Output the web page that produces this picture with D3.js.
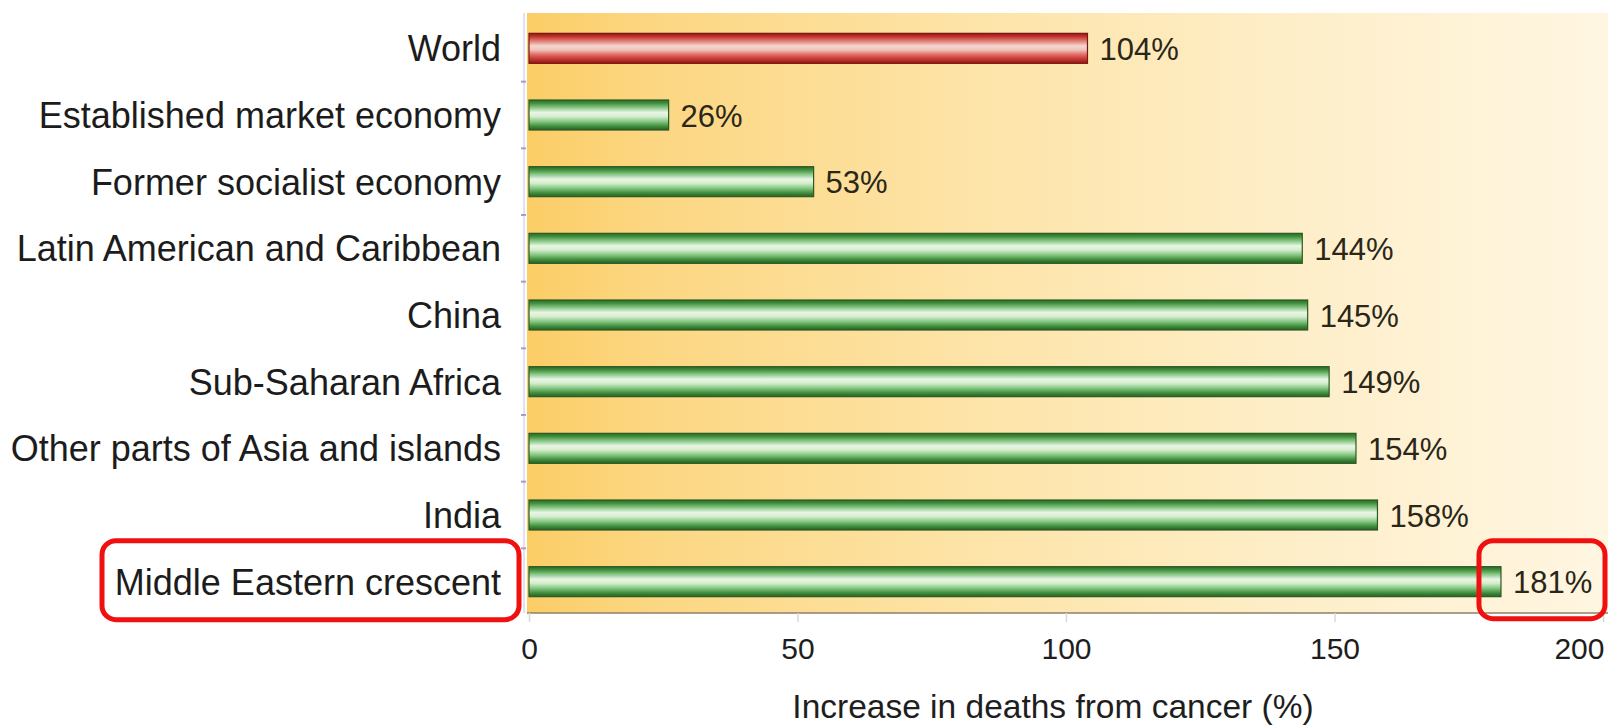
<!DOCTYPE html>
<html>
<head>
<meta charset="utf-8">
<script src="https://cdn.jsdelivr.net/npm/d3@7"></script>
<style>
  body { margin: 0; background: #fff; }
  svg { display: block; }
  text { font-family: "Liberation Sans", Arial, Helvetica, sans-serif; }
</style>
</head>
<body>
<svg id="chart" width="1608" height="727"></svg>
<script>
// Regions and the projected increase in cancer deaths (%)
const regions = [
  "World",
  "Established market economy",
  "Former socialist economy",
  "Latin American and Caribbean",
  "China",
  "Sub-Saharan Africa",
  "Other parts of Asia and islands",
  "India",
  "Middle Eastern crescent"
];
const increases = [104, 26, 53, 144, 145, 149, 154, 158, 181];
const highlighted = ["Middle Eastern crescent"];
const xTicks = [0, 50, 100, 150, 200];
const xTitle = "Increase in deaths from cancer (%)";

const W = 1608, H = 727;
const plot = { left: 527, right: 1608, top: 13, bottom: 613 };

const svg = d3.select("#chart");
const defs = svg.append("defs");

const x = d3.scaleLinear().domain([0, 200]).range([529, 1603]);
const y = d3.scaleBand().domain(regions).range([15, 615])
  .paddingInner(0.55).paddingOuter(0.275);

// warm background wash, saturated on the left and fading to cream
const bg = defs.append("linearGradient").attr("id", "bgGrad")
  .attr("x1", 0).attr("x2", 1).attr("y1", 0).attr("y2", 0);
[[0, "#fbcd66"], [0.12, "#fcd783"], [0.4, "#fde3a6"], [0.7, "#feeec8"], [1, "#fff6e2"]]
  .forEach(([o, c]) => bg.append("stop").attr("offset", o).attr("stop-color", c));

// cylinder-like shading for the bars
function barGradient(id, stops) {
  const g = defs.append("linearGradient").attr("id", id)
    .attr("x1", 0).attr("x2", 0).attr("y1", 0).attr("y2", 1);
  stops.forEach(([o, c]) => g.append("stop").attr("offset", o).attr("stop-color", c));
}
barGradient("greenGrad", [
  [0, "#2c6a28"], [0.1, "#3f8c3b"], [0.25, "#86c684"], [0.42, "#eaf6e6"],
  [0.55, "#d6eece"], [0.72, "#84c682"], [0.88, "#3e8c3a"], [1, "#2a5f25"]
]);
barGradient("redGrad", [
  [0, "#8c1a16"], [0.1, "#c0302c"], [0.25, "#e07a72"], [0.42, "#f4d8d0"],
  [0.55, "#eec4bc"], [0.72, "#e0685f"], [0.88, "#c0302c"], [1, "#8a1b16"]
]);

// plot background
svg.append("rect")
  .attr("x", plot.left).attr("y", plot.top)
  .attr("width", plot.right - plot.left).attr("height", plot.bottom - plot.top)
  .attr("fill", "url(#bgGrad)");

// left axis line with separators between categories
svg.append("line")
  .attr("x1", 524).attr("x2", 524).attr("y1", plot.top).attr("y2", plot.bottom)
  .attr("stroke", "#dcd6ea").attr("stroke-width", 1.5);
const step = y.step();
svg.append("g").selectAll("line")
  .data(regions.slice(1))
  .join("line")
  .attr("x1", 521).attr("x2", 526)
  .attr("y1", d => y(d) - step * y.paddingInner() / 2)
  .attr("y2", d => y(d) - step * y.paddingInner() / 2)
  .attr("stroke", "#a89ccc").attr("stroke-width", 2);

// bottom axis line
svg.append("line")
  .attr("x1", plot.left).attr("x2", plot.right)
  .attr("y1", plot.bottom).attr("y2", plot.bottom)
  .attr("stroke", "#8f8068").attr("stroke-width", 1.5);

// x axis ticks and labels
const xAxis = svg.append("g").attr("transform", `translate(0,${plot.bottom})`)
  .call(d3.axisBottom(x).tickValues(xTicks).tickSize(9).tickSizeOuter(0).tickPadding(16));
xAxis.select(".domain").remove();
xAxis.selectAll(".tick line").attr("stroke", "#d8d8d8").attr("stroke-width", 1.5);
xAxis.selectAll(".tick text")
  .attr("font-size", 30).attr("fill", "#1e1e1e")
  .attr("font-family", "'Liberation Sans', Arial, sans-serif")
  .attr("text-anchor", d => d === 200 ? "end" : "middle")
  .attr("dx", d => d === 200 ? 1 : 0);

svg.append("text")
  .attr("x", 1053).attr("y", 718)
  .attr("text-anchor", "middle")
  .attr("font-size", 33.5).attr("fill", "#1e1e1e")
  .text(xTitle);

const data = regions.map((r, i) => ({ region: r, value: increases[i] }));

// bars
svg.append("g").selectAll("rect")
  .data(data)
  .join("rect")
  .attr("x", x(0))
  .attr("y", d => y(d.region))
  .attr("width", d => x(d.value) - x(0))
  .attr("height", y.bandwidth())
  .attr("fill", d => d.region === "World" ? "url(#redGrad)" : "url(#greenGrad)")
  .attr("stroke", d => d.region === "World" ? "#7a1512" : "#2a5a24")
  .attr("stroke-width", 1.2);

// value labels
svg.append("g").selectAll("text")
  .data(data)
  .join("text")
  .attr("x", d => x(d.value) + 12)
  .attr("y", d => y(d.region) + y.bandwidth() / 2)
  .attr("dy", "0.38em")
  .attr("font-size", 31).attr("fill", "#2a2618")
  .text(d => d.value + "%");

// category labels
const catLabels = svg.append("g").selectAll("text")
  .data(data)
  .join("text")
  .attr("x", 501)
  .attr("y", d => y(d.region) + y.bandwidth() / 2)
  .attr("dy", "0.36em")
  .attr("text-anchor", "end")
  .attr("font-size", 36).attr("fill", "#1c1c1c")
  .text(d => d.region);

// red call-out boxes around the highlighted region and its value
const boxStroke = "#f01010";
catLabels.filter(d => highlighted.includes(d.region)).each(function (d) {
  const cy = y(d.region) + y.bandwidth() / 2;
  svg.append("rect")
    .attr("x", 102).attr("y", cy - 41)
    .attr("width", 417).attr("height", 79)
    .attr("rx", 14)
    .attr("fill", "none").attr("stroke", boxStroke).attr("stroke-width", 5);
  svg.append("rect")
    .attr("x", x(d.value) - 22).attr("y", cy - 41)
    .attr("width", W - 3 - (x(d.value) - 22)).attr("height", 78)
    .attr("rx", 14)
    .attr("fill", "none").attr("stroke", boxStroke).attr("stroke-width", 5);
});
</script>
</body>
</html>
